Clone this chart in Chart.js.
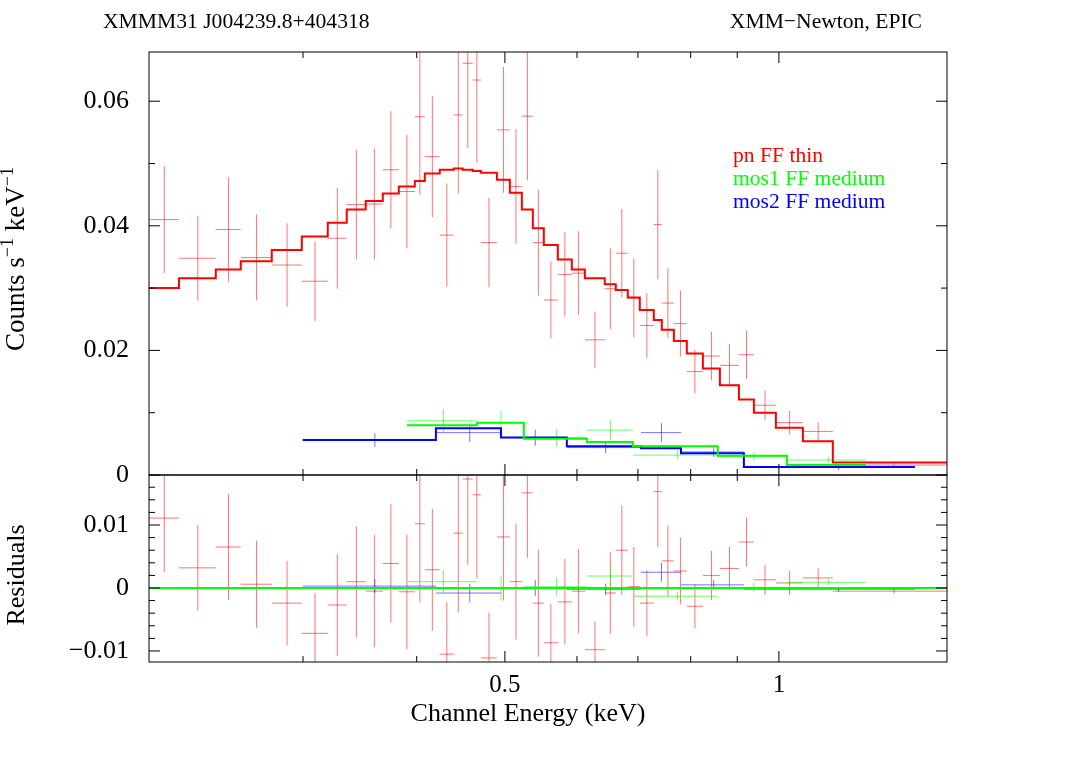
<!DOCTYPE html>
<html>
<head>
<meta charset="utf-8">
<script src="https://cdn.jsdelivr.net/npm/chart.js@4.4.1/dist/chart.umd.min.js"></script>
<style>
  html, body { margin: 0; padding: 0; background: #fff; }
  #wrap { position: relative; width: 1074px; height: 759px; }
  canvas { position: absolute; left: 0; top: 0; }
</style>
</head>
<body>
<div id="wrap">
  <canvas id="spec" width="1074" height="759"></canvas>
  <canvas id="resid" width="1074" height="759"></canvas>
</div>
<script>
// energy range (keV) and tick positions
const xMin = 0.2032;
const xMax = 1.53;
const xMajorTicks = [0.5, 1];
const xMinorTicks = [0.3, 0.4, 0.6, 0.7, 0.8, 0.9];

const specYMax = 0.0679;
const specYMajor = [0, 0.02, 0.04, 0.06];
const specYMinor = [0.01, 0.03, 0.05];

const residYMin = -0.01175;
const residYMax = 0.01794;
const residYMajor = [-0.01, 0, 0.01];
const residYMinor = [-0.008, -0.006, -0.004, -0.002, 0.002, 0.004, 0.006, 0.008, 0.012, 0.014, 0.016];

// pn FF thin
const pnEdges = [0.2032, 0.2192, 0.2406, 0.2563, 0.2772, 0.2991, 0.3194, 0.3351, 0.3516, 0.3671,
  0.3823, 0.3981, 0.4083, 0.4240, 0.4393, 0.4494, 0.4610, 0.4705, 0.4900, 0.5063, 0.5219,
  0.5366, 0.5517, 0.5716, 0.5922, 0.6121, 0.6437, 0.6619, 0.6823, 0.7033, 0.7287, 0.7436,
  0.7667, 0.7922, 0.8250, 0.8613, 0.9038, 0.9387, 0.9924, 1.0626, 1.1462, 1.530];
const pnRate = [0.0410, 0.0348, 0.0394, 0.0349, 0.0337, 0.0311, 0.0380, 0.0434, 0.0435, 0.0490,
  0.0455, 0.0575, 0.0511, 0.0385, 0.0578, 0.0661, 0.0634, 0.0373, 0.0554, 0.0463, 0.0576,
  0.0373, 0.0281, 0.0322, 0.0324, 0.0217, 0.0299, 0.0356, 0.0284, 0.0240, 0.0402, 0.0276,
  0.0243, 0.0166, 0.0191, 0.0176, 0.0193, 0.0112, 0.0084, 0.0070, 0.0016];
const pnErr = [0.0086, 0.0068, 0.0084, 0.0069, 0.0067, 0.0064, 0.0081, 0.0088, 0.0089, 0.0094,
  0.0091, 0.0125, 0.0097, 0.0083, 0.0126, 0.0136, 0.0133, 0.0072, 0.0101, 0.0092, 0.0103,
  0.0085, 0.0062, 0.0068, 0.0067, 0.0045, 0.0065, 0.0071, 0.0063, 0.0052, 0.0088, 0.0056,
  0.0053, 0.0035, 0.0039, 0.0034, 0.0039, 0.0024, 0.0019, 0.0015, 0.0004];
const pnModel = [0.0300, 0.0316, 0.0330, 0.0343, 0.0361, 0.0383, 0.0405, 0.0426, 0.0440, 0.0452,
  0.0463, 0.0472, 0.0484, 0.0490, 0.0492, 0.0490, 0.0488, 0.0485, 0.0474, 0.0453, 0.0426,
  0.0396, 0.0369, 0.0346, 0.0330, 0.0316, 0.0306, 0.0297, 0.0285, 0.0265, 0.0249, 0.0233,
  0.0215, 0.0195, 0.0171, 0.0144, 0.0121, 0.0100, 0.0076, 0.0054, 0.0020];
const pnResid = [0.0111, 0.0032, 0.0065, 0.0006, -0.0024, -0.0072, -0.0027, 0.0010, -0.0005, 0.0039,
  -0.0006, 0.0102, 0.0029, -0.0105, 0.0087, 0.0173, 0.0148, -0.0111, 0.0081, 0.0010, 0.0151,
  -0.0024, -0.0087, -0.0022, -0.0005, -0.0098, -0.0008, 0.0060, 0.0002, -0.0024, 0.0153, 0.0043,
  0.0027, -0.0029, 0.0020, 0.0031, 0.0073, 0.0013, 0.0008, 0.0016, -0.0005];

// mos1 FF medium
const mos1Edges = [0.3902, 0.4658, 0.5245, 0.6152, 0.6911, 0.8567, 1.0204, 1.2463];
const mos1Rate = [0.0087, 0.0084, 0.0060, 0.0072, 0.0032, 0.0030, 0.0024];
const mos1Err = [0.0018, 0.0020, 0.0014, 0.0016, 0.0007, 0.0007, 0.0005];
const mos1Model = [0.0080, 0.0084, 0.0058, 0.0053, 0.0046, 0.0031, 0.0016];
const mos1Resid = [0.0010, 0.0000, 0.0002, 0.0019, -0.0013, 0.0001, 0.0009];

// mos2 FF medium
const mos2Edges = [0.2998, 0.4199, 0.4950, 0.5848, 0.7054, 0.7806, 0.9152, 1.4106];
const mos2Rate = [0.0056, 0.0068, 0.0060, 0.0044, 0.0068, 0.0037, 0.0012];
const mos2Err = [0.0011, 0.0015, 0.0013, 0.0009, 0.0015, 0.0008, 0.0004];
const mos2Model = [0.0056, 0.0075, 0.0060, 0.0046, 0.0043, 0.0035, 0.0013];
const mos2Resid = [0.0003, -0.0008, 0.0000, -0.0002, 0.0025, 0.0005, -0.0002];

// -----------------------------------------------------------------------------

const SERIF = "'Liberation Serif', 'Times New Roman', serif";
Chart.defaults.font.family = SERIF;
Chart.defaults.color = "#000";

const RED = "#ff0000", GREEN = "#00ff00", BLUE = "#0000ff";

function stepPoints(edges, vals) {
  const pts = [];
  vals.forEach((v, i) => {
    pts.push({ x: edges[i], y: v }, { x: edges[i + 1], y: v });
  });
  return pts;
}

// horizontal bar over the bin + vertical error bar at bin centre, gaps between
function crossPoints(edges, vals, errs) {
  const pts = [];
  vals.forEach((v, i) => {
    const lo = edges[i], hi = edges[i + 1], mid = (lo + hi) / 2;
    pts.push({ x: lo, y: v }, { x: hi, y: v }, { x: hi, y: null });
    pts.push({ x: mid, y: v - errs[i] }, { x: mid, y: v + errs[i] }, { x: mid, y: null });
  });
  return pts;
}

function lineSet(data, color, width, order) {
  return {
    data,
    borderColor: color,
    borderWidth: width,
    pointRadius: 0,
    fill: false,
    tension: 0,
    spanGaps: false,
    order,
  };
}

function fmt(v) {
  if (Math.abs(v) < 1e-9) return "0";
  return (v < 0 ? "\u2212" : "") + Math.abs(v).toFixed(2);
}

// frame with inward ticks on all four sides
const frameTicks = {
  id: "frameTicks",
  afterDatasetsDraw(chart, args, opts) {
    const { ctx, chartArea: a, scales } = chart;
    ctx.save();
    ctx.strokeStyle = "#000";
    ctx.lineWidth = 1;
    ctx.beginPath();
    const xt = (list, len) => list.forEach((v) => {
      const px = scales.x.getPixelForValue(v);
      ctx.moveTo(px, a.top); ctx.lineTo(px, a.top + len);
      ctx.moveTo(px, a.bottom); ctx.lineTo(px, a.bottom - len);
    });
    const yt = (list, len) => list.forEach((v) => {
      const py = scales.y.getPixelForValue(v);
      ctx.moveTo(a.left, py); ctx.lineTo(a.left + len, py);
      ctx.moveTo(a.right, py); ctx.lineTo(a.right - len, py);
    });
    xt(xMajorTicks, 11);
    xt(xMinorTicks, 6);
    yt(opts.major, 11);
    yt(opts.minor, 6);
    ctx.stroke();
    ctx.strokeRect(a.left, a.top, a.right - a.left, a.bottom - a.top);
    ctx.restore();
  },
};

// text with superscripts, parts = [[text, isSup], ...]
function drawRich(ctx, parts, size) {
  const supSize = Math.round(size * 0.65);
  let total = 0;
  parts.forEach(([t, sup]) => {
    ctx.font = `${sup ? supSize : size}px ${SERIF}`;
    total += ctx.measureText(t).width;
  });
  let x = -total / 2;
  parts.forEach(([t, sup]) => {
    ctx.font = `${sup ? supSize : size}px ${SERIF}`;
    ctx.fillText(t, x, sup ? -size * 0.33 : 0);
    x += ctx.measureText(t).width;
  });
}

const specText = {
  id: "specText",
  afterDraw(chart) {
    const { ctx } = chart;
    ctx.save();
    ctx.fillStyle = "#000";
    ctx.textBaseline = "middle";
    ctx.font = `21.6px ${SERIF}`;
    ctx.textAlign = "left";
    ctx.fillText("XMMM31 J004239.8+404318", 103, 22);
    ctx.textAlign = "right";
    ctx.fillText("XMM\u2212Newton, EPIC", 922, 22);

    ctx.textAlign = "left";
    ctx.fillStyle = RED;
    ctx.fillText("pn FF thin", 733, 156);
    ctx.fillStyle = GREEN;
    ctx.fillText("mos1 FF medium", 733, 179);
    ctx.fillStyle = BLUE;
    ctx.fillText("mos2 FF medium", 733, 202);

    ctx.fillStyle = "#000";
    ctx.translate(17, 259);
    ctx.rotate(-Math.PI / 2);
    ctx.textAlign = "left";
    ctx.textBaseline = "middle";
    drawRich(ctx, [["Counts s", false], ["\u22121", true], [" keV", false], ["\u22121", true]], 27);
    ctx.restore();
  },
};

const residText = {
  id: "residText",
  afterDraw(chart) {
    const { ctx } = chart;
    ctx.save();
    ctx.fillStyle = "#000";
    ctx.font = `26px ${SERIF}`;
    ctx.textAlign = "center";
    ctx.textBaseline = "middle";
    ctx.fillText("Channel Energy (keV)", 528, 714);
    ctx.translate(17, 575);
    ctx.rotate(-Math.PI / 2);
    ctx.fillText("Residuals", 0, 0);
    ctx.restore();
  },
};

const yAxisBase = {
  type: "linear",
  afterFit: (s) => { s.width = 149; },
  grid: { display: false, drawTicks: false },
  border: { display: false },
  ticks: { padding: 20, font: { size: 26 }, callback: (v) => fmt(v) },
};

const specChart = new Chart(document.getElementById("spec"), {
  type: "line",
  data: {
    datasets: [
      lineSet(stepPoints(pnEdges, pnModel), RED, 2, 0),
      lineSet(stepPoints(mos1Edges, mos1Model), GREEN, 2, 1),
      lineSet(stepPoints(mos2Edges, mos2Model), BLUE, 2, 1),
      lineSet(crossPoints(pnEdges, pnRate, pnErr), "rgba(255,0,0,0.55)", 1, 2),
      lineSet(crossPoints(mos1Edges, mos1Rate, mos1Err), "rgba(0,255,0,0.6)", 1, 3),
      lineSet(crossPoints(mos2Edges, mos2Rate, mos2Err), "rgba(0,0,255,0.55)", 1, 3),
    ],
  },
  options: {
    responsive: false,
    animation: false,
    layout: { padding: { top: 52, right: 127, bottom: 284, left: 0 } },
    plugins: {
      legend: { display: false },
      tooltip: { enabled: false },
      frameTicks: { major: specYMajor, minor: specYMinor },
    },
    scales: {
      x: { type: "logarithmic", min: xMin, max: xMax, display: false },
      y: {
        ...yAxisBase,
        min: 0,
        max: specYMax,
        afterBuildTicks: (s) => { s.ticks = specYMajor.map((v) => ({ value: v })); },
      },
    },
  },
  plugins: [frameTicks, specText],
});

const residChart = new Chart(document.getElementById("resid"), {
  type: "line",
  data: {
    datasets: [
      lineSet([{ x: xMin, y: 0 }, { x: xMax, y: 0 }], GREEN, 2, 0),
      lineSet(crossPoints(pnEdges, pnResid, pnErr), "rgba(255,0,0,0.55)", 1, 2),
      lineSet(crossPoints(mos1Edges, mos1Resid, mos1Err), "rgba(0,255,0,0.6)", 1, 1),
      lineSet(crossPoints(mos2Edges, mos2Resid, mos2Err), "rgba(0,0,255,0.55)", 1, 1),
    ],
  },
  options: {
    responsive: false,
    animation: false,
    layout: { padding: { top: 475, right: 127, bottom: 0, left: 0 } },
    plugins: {
      legend: { display: false },
      tooltip: { enabled: false },
      frameTicks: { major: residYMajor, minor: residYMinor },
    },
    scales: {
      x: {
        type: "logarithmic",
        min: xMin,
        max: xMax,
        afterFit: (s) => { s.height = 97; },
        afterBuildTicks: (s) => { s.ticks = xMajorTicks.map((v) => ({ value: v })); },
        grid: { display: false, drawTicks: false },
        border: { display: false },
        ticks: {
          padding: 8,
          autoSkip: false,
          maxRotation: 0,
          font: { size: 25 },
          callback: (v) => String(v),
        },
      },
      y: {
        ...yAxisBase,
        min: residYMin,
        max: residYMax,
        afterBuildTicks: (s) => { s.ticks = residYMajor.map((v) => ({ value: v })); },
      },
    },
  },
  plugins: [frameTicks, residText],
});
</script>
</body>
</html>
